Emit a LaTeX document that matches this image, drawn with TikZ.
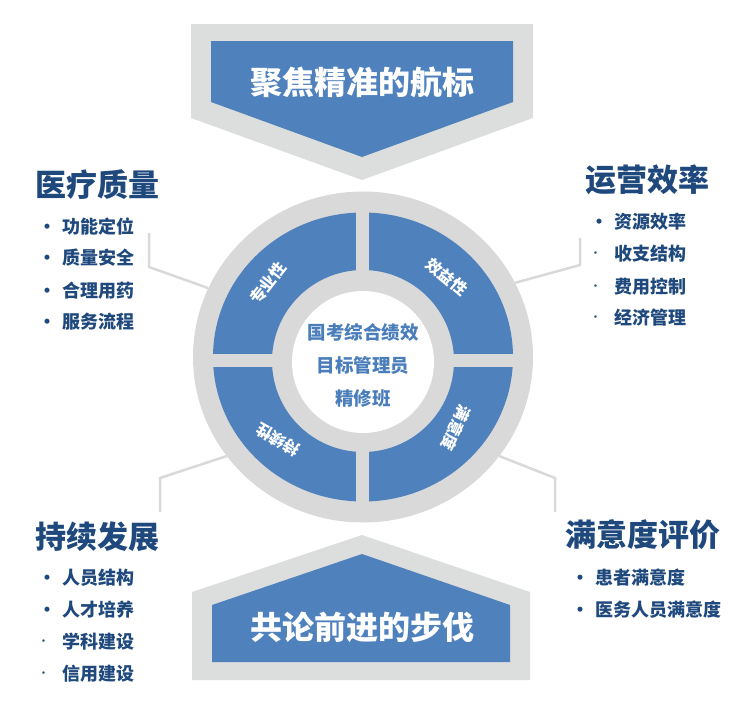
\documentclass[tikz,border=0pt]{standalone}
\usepackage{fontspec}
\newfontfamily\cjk{Noto Sans CJK SC}
\usetikzlibrary{positioning, shapes.geometric}

\definecolor{ringgray}{HTML}{D9D9D9}
\definecolor{framegray}{HTML}{DCDDDD}
\definecolor{quadblue}{HTML}{4F81BD}
\definecolor{headblue}{HTML}{1F497D}
\definecolor{hubblue}{HTML}{4A7EBB}

\newcommand{\bigdot}{\makebox[24pt][l]{•}}
\newcommand{\tinydot}{\makebox[24pt][l]{\hspace{1pt}\raisebox{4.5pt}{\fontsize{9}{9}\selectfont ·}}}

\begin{document}
\begin{tikzpicture}[
        x=1pt, y=-1pt,
        % Define styles for the nodes
        title_txt/.style={text=white, font=\cjk\bfseries\fontsize{32}{36}\selectfont, inner sep=0pt},
        heading/.style={text=headblue, font=\cjk\bfseries\fontsize{31}{34}\selectfont, inner sep=0pt},
        item/.style={text=headblue, font=\cjk\bfseries\fontsize{18}{20}\selectfont, inner sep=0pt, anchor=west},
        quad_txt/.style={text=white, font=\cjk\bfseries\fontsize{16}{18}\selectfont, inner sep=0pt},
        leader/.style={draw=ringgray, line width=2.5pt}
    ]
    \useasboundingbox (0,0) rectangle (747,707);

    % ==============================================
    % === TOP AND BOTTOM BANNERS ===
    % ==============================================
    \fill[framegray] (191,24) -- (533,24) -- (533,118) -- (362,180) -- (191,118) -- cycle;
    \fill[quadblue] (211,41) -- (513,41) -- (513,102) -- (362,157) -- (211,102) -- cycle;
    \node (aim) [title_txt] at (362,82) {聚焦精准的航标};

    \fill[framegray] (192,680) -- (530,680) -- (530,592) -- (362,535) -- (192,592) -- cycle;
    \fill[quadblue] (212,662) -- (510,662) -- (510,605) -- (362,554) -- (212,605) -- cycle;
    \node (step_txt) [title_txt] at (362,627) {共论前进的步伐};

    % ==============================================
    % === RING ===
    % ==============================================
    \node (ring) [ellipse, fill=ringgray, minimum width=340pt, minimum height=331pt, inner sep=0pt] at (363,357) {};
    \fill[quadblue, even odd rule] (ring.center) ellipse [x radius=150pt, y radius=144.5pt]
        (363,361) circle (91pt);
    \draw[ringgray, line width=13pt] (205,360) -- (521,360);
    \draw[ringgray, line width=13pt] (362.5,205) -- (362.5,510);
    \node (hub) [circle, fill=white, minimum size=142pt, inner sep=0pt] at (363,362) {};
    \node (hub_txt) [align=center, text=hubblue, font=\cjk\bfseries\fontsize{18.5}{33}\selectfont] at (363,365) {国考综合绩效\\目标管理员\\精修班};

    \node (q_tl) [quad_txt, rotate=52] at (268,283) {专业性};
    \node (q_tr) [quad_txt, rotate=-40] at (447,277) {效益性};
    \node (q_bl) [quad_txt, rotate=150] at (278,440) {持续性};
    \node (q_br) [quad_txt, rotate=-115] at (456,428) {满意度};

    % ==============================================
    % === SIDE LISTS ===
    % ==============================================
    \node (med) [heading, anchor=west] at (35,185) {医疗质量};
    \node (med1) [item] at (38,227) {\bigdot 功能定位};
    \node (med2) [item, below=31pt of med1.west, anchor=west] {\bigdot 质量安全};
    \node (med3) [item, below=33pt of med2.west, anchor=west] {\bigdot 合理用药};
    \node (med4) [item, below=31pt of med3.west, anchor=west] {\bigdot 服务流程};

    \node (ops) [heading, anchor=west] at (585,180) {运营效率};
    \node (ops1) [item] at (590,222) {\bigdot 资源效率};
    \node (ops2) [item, below=32pt of ops1.west, anchor=west] {\tinydot 收支结构};
    \node (ops3) [item, below=33pt of ops2.west, anchor=west] {\tinydot 费用控制};
    \node (ops4) [item, below=31pt of ops3.west, anchor=west] {\tinydot 经济管理};

    \node (grow) [heading, anchor=west] at (35,537) {持续发展};
    \node (grow1) [item] at (38,578) {\bigdot 人员结构};
    \node (grow2) [item, below=32pt of grow1.west, anchor=west] {\bigdot 人才培养};
    \node (grow3) [item, below=32pt of grow2.west, anchor=west] {\tinydot 学科建设};
    \node (grow4) [item, below=32pt of grow3.west, anchor=west] {\tinydot 信用建设};

    \node (sat) [heading, anchor=west] at (565,535) {满意度评价};
    \node (sat1) [item] at (571,578) {\bigdot 患者满意度};
    \node (sat2) [item, below=32pt of sat1.west, anchor=west] {\bigdot 医务人员满意度};

    % Leader lines from the lists to the ring
    \coordinate (med_top) at (149,233);
    \coordinate (med_bend) at (149,267);
    \draw[leader] (med_top) -- (med_bend) -- (ring.156);

    \coordinate (ops_top) at (580,238);
    \coordinate (ops_bend) at (580,265);
    \draw[leader] (ops_top) -- (ops_bend) -- (ring.26);

    \coordinate (grow_top) at (160,512);
    \coordinate (grow_bend) at (160,478);
    \draw[leader] (grow_top) -- (grow_bend) -- (ring.216);

    \coordinate (sat_top) at (555,512);
    \coordinate (sat_bend) at (555,478);
    \draw[leader] (sat_top) -- (sat_bend) -- (ring.-36);

\end{tikzpicture}
\end{document}
